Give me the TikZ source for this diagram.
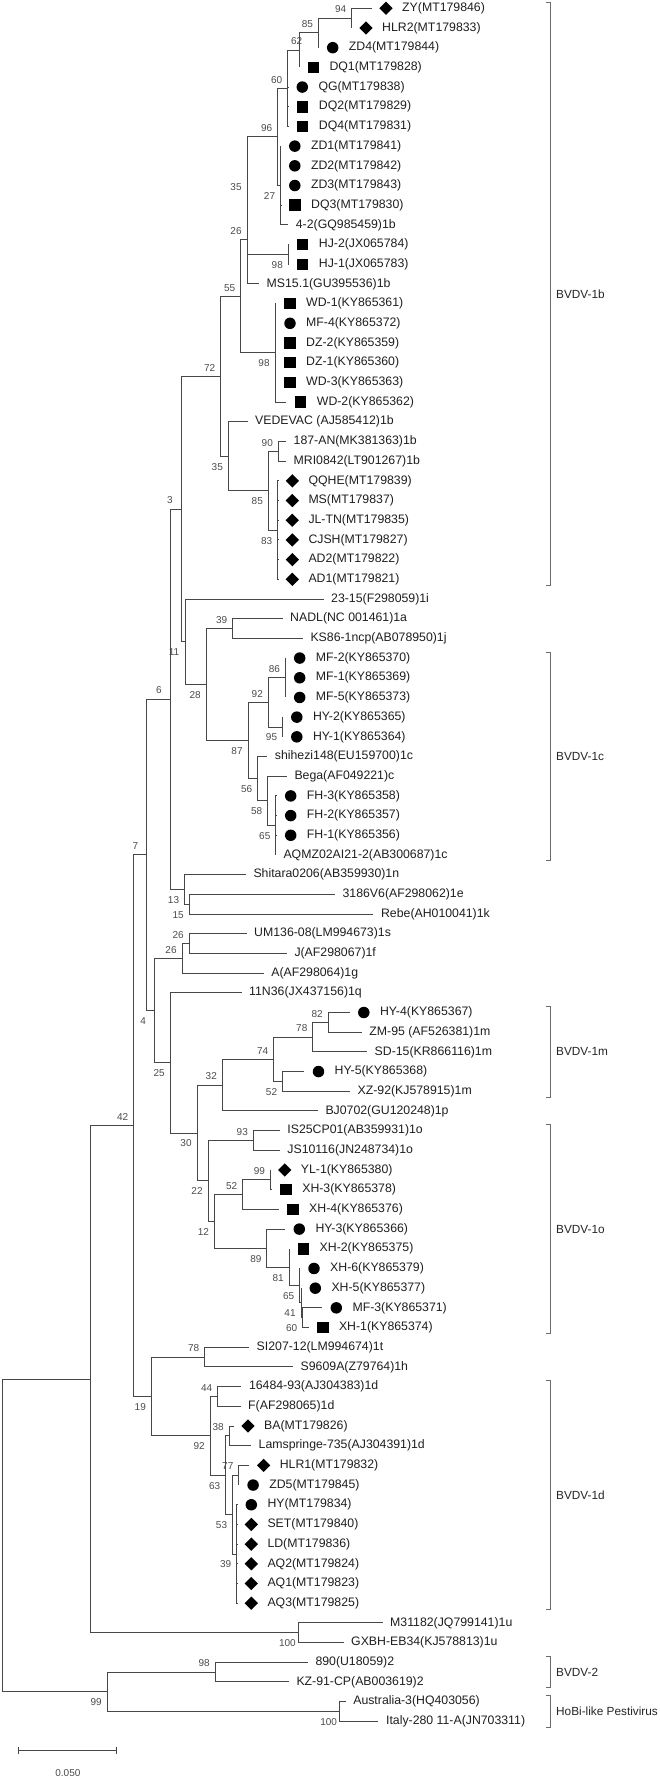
\documentclass[tikz,border=0pt]{standalone}
\usepackage{fontspec}
\setmainfont{Liberation Sans}
\usetikzlibrary{shapes.geometric}
\tikzset{
  br/.style={draw=black!72, line width=0.95pt},
  brk/.style={draw=black!58, line width=1pt},
  lbl/.style={anchor=west, inner sep=0pt, font=\fontsize{12.3}{14}\selectfont, text=black!88},
  cladelbl/.style={anchor=west, inner sep=0pt, font=\fontsize{11.8}{14}\selectfont, text=black!85},
  bsbase/.style={inner sep=0pt, font=\fontsize{10}{12}\selectfont, text=black!70},
  bsu/.style={bsbase, xshift=-11pt, yshift=8.7pt},
  bsl/.style={bsbase, xshift=-11pt, yshift=-10.5pt},
  mkD/.style={diamond, fill=black, draw=none, inner sep=0pt, minimum width=13.5pt, minimum height=13.5pt},
  mkC/.style={circle, fill=black, draw=none, inner sep=0pt, minimum size=11.5pt},
  mkS/.style={rectangle, fill=black, draw=none, inner sep=0pt, minimum size=11.5pt},
}
\newcommand\lfN[3]{\coordinate (L#1) at (#2,#1); \node[lbl] (T#1) at ([xshift=7.5pt]L#1) {#3};}
\newcommand\lfD[3]{\coordinate (L#1) at (#2,#1); \node[mkD] (M#1) at ([xshift=14.3pt]L#1) {}; \node[lbl] (T#1) at ([xshift=30.3pt]L#1) {#3};}
\newcommand\lfC[3]{\coordinate (L#1) at (#2,#1); \node[mkC] (M#1) at ([xshift=14.3pt]L#1) {}; \node[lbl] (T#1) at ([xshift=30.3pt]L#1) {#3};}
\newcommand\lfS[3]{\coordinate (L#1) at (#2,#1); \node[mkS] (M#1) at ([xshift=14.3pt]L#1) {}; \node[lbl] (T#1) at ([xshift=30.3pt]L#1) {#3};}
\newcommand\cladebr[4]{%
  \coordinate (#1-a) at (545.7,{#2-0.3});
  \coordinate (#1-b) at (550,{#2-0.3});
  \coordinate (#1-c) at (550,{#3+0.3});
  \coordinate (#1-d) at (545.7,{#3+0.3});
  \draw[brk] (#1-a) -- (#1-b) -- (#1-c) -- (#1-d);
  \node[cladelbl] (#1) at (556,{(#2+#3)/2}) {#4};}
\begin{document}
\begin{tikzpicture}[x=1pt,y=-19.69pt]
\fill[white] (0,0.5785) rectangle (659,91.2844);
\useasboundingbox (0,0.5785) rectangle (659,91.2844);

% ---------- leaves ----------
\lfD{1}{371.7}{ZY(MT179846)}
\lfD{2}{351.7}{HLR2(MT179833)}
\lfC{3}{318.4}{ZD4(MT179844)}
\lfS{4}{299}{DQ1(MT179828)}
\lfC{5}{288}{QG(MT179838)}
\lfS{6}{288.4}{DQ2(MT179829)}
\lfS{7}{288.4}{DQ4(MT179831)}
\lfC{8}{280.5}{ZD1(MT179841)}
\lfC{9}{280.5}{ZD2(MT179842)}
\lfC{10}{280.5}{ZD3(MT179843)}
\lfS{11}{280.7}{DQ3(MT179830)}
\lfN{12}{288.2}{4-2(GQ985459)1b}
\lfS{13}{288.4}{HJ-2(JX065784)}
\lfS{14}{288.4}{HJ-1(JX065783)}
\lfN{15}{259}{MS15.1(GU395536)1b}
\lfS{16}{275.7}{WD-1(KY865361)}
\lfC{17}{275.7}{MF-4(KY865372)}
\lfS{18}{275.7}{DZ-2(KY865359)}
\lfS{19}{275.7}{DZ-1(KY865360)}
\lfS{20}{275.7}{WD-3(KY865363)}
\lfS{21}{286.4}{WD-2(KY865362)}
\lfN{22}{247.5}{VEDEVAC (AJ585412)1b}
\lfN{23}{286}{187-AN(MK381363)1b}
\lfN{24}{286}{MRI0842(LT901267)1b}
\lfD{25}{278}{QQHE(MT179839)}
\lfD{26}{278}{MS(MT179837)}
\lfD{27}{278}{JL-TN(MT179835)}
\lfD{28}{278}{CJSH(MT179827)}
\lfD{29}{278}{AD2(MT179822)}
\lfD{30}{278}{AD1(MT179821)}
\lfN{31}{323.5}{23-15(F298059)1i}
\lfN{32}{282.5}{NADL(NC 001461)1a}
\lfN{33}{302.8}{KS86-1ncp(AB078950)1j}
\lfC{34}{285.4}{MF-2(KY865370)}
\lfC{35}{285.4}{MF-1(KY865369)}
\lfC{36}{285.4}{MF-5(KY865373)}
\lfC{37}{282.5}{HY-2(KY865365)}
\lfC{38}{282.5}{HY-1(KY865364)}
\lfN{39}{267.2}{shihezi148(EU159700)1c}
\lfN{40}{286.8}{Bega(AF049221)c}
\lfC{41}{276.4}{FH-3(KY865358)}
\lfC{42}{276.4}{FH-2(KY865357)}
\lfC{43}{276.4}{FH-1(KY865356)}
\lfN{44}{275.8}{AQMZ02AI21-2(AB300687)1c}
\lfN{45}{245.8}{Shitara0206(AB359930)1n}
\lfN{46}{334.9}{3186V6(AF298062)1e}
\lfN{47}{373.4}{Rebe(AH010041)1k}
\lfN{48}{246.5}{UM136-08(LM994673)1s}
\lfN{49}{286.8}{J(AF298067)1f}
\lfN{50}{263.6}{A(AF298064)1g}
\lfN{51}{241.5}{11N36(JX437156)1q}
\lfC{52}{349.5}{HY-4(KY865367)}
\lfN{53}{361.7}{ZM-95 (AF526381)1m}
\lfN{54}{367}{SD-15(KR866116)1m}
\lfC{55}{304.2}{HY-5(KY865368)}
\lfN{56}{349.9}{XZ-92(KJ578915)1m}
\lfN{57}{317.8}{BJ0702(GU120248)1p}
\lfN{58}{279.7}{IS25CP01(AB359931)1o}
\lfN{59}{279.7}{JS10116(JN248734)1o}
\lfD{60}{270.4}{YL-1(KY865380)}
\lfS{61}{271.8}{XH-3(KY865378)}
\lfS{62}{278.7}{XH-4(KY865376)}
\lfC{63}{285}{HY-3(KY865366)}
\lfS{64}{289.2}{XH-2(KY865375)}
\lfC{65}{299.7}{XH-6(KY865379)}
\lfC{66}{301}{XH-5(KY865377)}
\lfC{67}{322}{MF-3(KY865371)}
\lfS{68}{308.5}{XH-1(KY865374)}
\lfN{69}{249}{SI207-12(LM994674)1t}
\lfN{70}{293}{S9609A(Z79764)1h}
\lfN{71}{241.3}{16484-93(AJ304383)1d}
\lfN{72}{240.5}{F(AF298065)1d}
\lfD{73}{233.7}{BA(MT179826)}
\lfN{74}{251}{Lamspringe-735(AJ304391)1d}
\lfD{75}{249.3}{HLR1(MT179832)}
\lfC{76}{238.8}{ZD5(MT179845)}
\lfC{77}{237}{HY(MT179834)}
\lfD{78}{237}{SET(MT179840)}
\lfD{79}{237}{LD(MT179836)}
\lfD{80}{237}{AQ2(MT179824)}
\lfD{81}{237}{AQ1(MT179823)}
\lfD{82}{237}{AQ3(MT179825)}
\lfN{83}{382.5}{M31182(JQ799141)1u}
\lfN{84}{343.5}{GXBH-EB34(KJ578813)1u}
\lfN{85}{307.8}{890(U18059)2}
\lfN{86}{288.8}{KZ-91-CP(AB003619)2}
\lfN{87}{345.6}{Australia-3(HQ403056)}
\lfN{88}{378.4}{Italy-280 11-A(JN703311)}

% ---------- internal nodes (x in px, y in rows) ----------
\coordinate (n94) at (351.7,1.5);
\coordinate (n85) at (318.4,2.25);
\coordinate (n62) at (299,3.125);
\coordinate (n60) at (287.7,5.0625);
\coordinate (n27) at (280.5,10);
\coordinate (n96) at (277.7,7.53125);
\coordinate (nHJ) at (288.3,13.5);
\coordinate (n35a) at (247,10.515625);
\coordinate (n26a) at (247,12.7578);
\coordinate (n98a) at (275,18.5);
\coordinate (n55) at (240.7,15.6289);
\coordinate (n90) at (278.3,23.5);
\coordinate (n83) at (277.7,27.5);
\coordinate (n85b) at (268.3,25.5);
\coordinate (n35b) at (228.3,23.75);
\coordinate (n72) at (220.7,19.6895);
\coordinate (n39) at (232.6,32.5);
\coordinate (n86) at (285.4,35);
\coordinate (n95) at (282.5,37.5);
\coordinate (n92) at (268.3,36.25);
\coordinate (n65) at (275.8,42.5);
\coordinate (n58) at (267.6,41.25);
\coordinate (n56) at (257.6,40.125);
\coordinate (n87) at (248,38.1875);
\coordinate (n28) at (206.2,35.34375);
\coordinate (n11) at (185,33.171875);
\coordinate (n3) at (181,26.4307);
\coordinate (n15) at (189.1,46.5);
\coordinate (n13) at (184.5,45.75);
\coordinate (n6) at (170,36.0903);
\coordinate (n26b) at (189.1,48.5);
\coordinate (n26c) at (182,49.25);
\coordinate (n82) at (328.2,52.5);
\coordinate (n78) at (312.8,53.25);
\coordinate (n52) at (282.5,55.5);
\coordinate (n74) at (273.6,54.375);
\coordinate (n32) at (222.3,55.6875);
\coordinate (n93) at (253.3,58.5);
\coordinate (n99b) at (270.4,60.5);
\coordinate (n52b) at (242.6,61.25);
\coordinate (n60b) at (302.6,67.5);
\coordinate (n41) at (301,66.75);
\coordinate (n65b) at (299.7,65.875);
\coordinate (n81) at (289.2,64.9375);
\coordinate (n89) at (266.9,63.96875);
\coordinate (n12) at (214.4,62.609375);
\coordinate (n22) at (208,60.5547);
\coordinate (n30) at (197,58.1211);
\coordinate (n25) at (170.2,54.5605);
\coordinate (n4) at (154.2,51.9053);
\coordinate (n7) at (146.3,43.9978);
\coordinate (n78b) at (204.7,69.5);
\coordinate (n44) at (217.7,71.5);
\coordinate (n38) at (229.1,73.5);
\coordinate (n77) at (238.8,75.5);
\coordinate (n39d) at (236.7,79.5);
\coordinate (n53) at (232.5,77.5);
\coordinate (n63) at (225.7,75.5);
\coordinate (n92d) at (210.2,73.5);
\coordinate (n19) at (151.3,71.5);
\coordinate (n42) at (133.7,57.7489);
\coordinate (n100u) at (298.4,83.5);
\coordinate (nA) at (90.4,70.6245);
\coordinate (n98c) at (215.2,85.5);
\coordinate (n100h) at (339.6,87.5);
\coordinate (n99) at (107.2,86.5);
\coordinate (root) at (2.1,78.5622);

% ---------- branches ----------
\foreach \p/\c in {n94/L1,n94/L2,n85/n94,n85/L3,n62/n85,n62/L4,n60/n62,n60/L5,n60/L6,n60/L7,
  n27/L8,n27/L9,n27/L10,n27/L11,n27/L12,n96/n60,n96/n27,nHJ/L13,nHJ/L14,n35a/n96,n35a/nHJ,
  n26a/n35a,n26a/L15,n98a/L16,n98a/L17,n98a/L18,n98a/L19,n98a/L20,n98a/L21,n55/n26a,n55/n98a,
  n90/L23,n90/L24,n83/L25,n83/L26,n83/L27,n83/L28,n83/L29,n83/L30,n85b/n90,n85b/n83,
  n35b/L22,n35b/n85b,n72/n55,n72/n35b,n3/n72,n3/n11,
  n11/L31,n11/n28,n28/n39,n28/n87,n39/L32,n39/L33,n87/n92,n87/n56,n92/n86,n92/n95,
  n86/L34,n86/L35,n86/L36,n95/L37,n95/L38,n56/L39,n56/n58,n58/L40,n58/n65,
  n65/L41,n65/L42,n65/L43,n65/L44,
  n6/n3,n6/n13,n13/L45,n13/n15,n15/L46,n15/L47,
  n7/n6,n7/n4,n4/n26c,n4/n25,n26c/n26b,n26c/L50,n26b/L48,n26b/L49,n25/L51,n25/n30,
  n30/n32,n30/n22,n32/n74,n32/L57,n74/n78,n74/n52,n78/n82,n78/L54,n82/L52,n82/L53,
  n52/L55,n52/L56,n22/n93,n22/n12,n93/L58,n93/L59,n12/n52b,n12/n89,n52b/n99b,n52b/L62,
  n99b/L60,n99b/L61,n89/L63,n89/n81,n81/L64,n81/n65b,n65b/L65,n65b/n41,n41/L66,n41/n60b,
  n60b/L67,n60b/L68,
  n42/n7,n42/n19,n19/n78b,n19/n92d,n78b/L69,n78b/L70,n92d/n44,n92d/n63,n44/L71,n44/L72,
  n63/n38,n63/n53,n38/L73,n38/L74,n53/n77,n53/n39d,n77/L75,n77/L76,
  n39d/L77,n39d/L78,n39d/L79,n39d/L80,n39d/L81,n39d/L82,
  nA/n42,nA/n100u,n100u/L83,n100u/L84,root/nA,root/n99,n99/n98c,n99/n100h,
  n98c/L85,n98c/L86,n100h/L87,n100h/L88}
  \draw[br] (\p) |- (\c);

% ---------- bootstrap values ----------
\foreach \n/\v in {n94/94,n85/85,n60/60,n96/96,n35a/35,n26a/26,n55/55,n72/72,n3/3,n6/6,n7/7,
  n42/42,n90/90,n39/39,n92/92,n86/86,n26b/26,n26c/26,n82/82,n78/78,n74/74,n32/32,n93/93,
  n99b/99,n52b/52,n78b/78,n44/44,n38/38,n77/77,n98c/98}
  \node[bsu] (b-\n) at (\n) {\v};
\node[bsu, xshift=8.7pt] (b-n62) at (n62) {62};
\foreach \n/\v in {n27/27,nHJ/98,n98a/98,n35b/35,n85b/85,n83/83,n11/11,n28/28,n87/87,n95/95,
  n56/56,n58/58,n65/65,n13/13,n15/15,n4/4,n25/25,n30/30,n52/52,n22/22,n12/12,n89/89,n81/81,
  n65b/65,n41/41,n60b/60,n19/19,n92d/92,n63/63,n53/53,n39d/39,n100u/100,n99/99,n100h/100}
  \node[bsl] (b-\n) at (\n) {\v};

% ---------- clade brackets ----------
\cladebr{c1b}{1}{30}{BVDV-1b}
\cladebr{c1c}{34}{44}{BVDV-1c}
\cladebr{c1m}{52}{56}{BVDV-1m}
\cladebr{c1o}{58}{68}{BVDV-1o}
\cladebr{c1d}{71}{82}{BVDV-1d}
\cladebr{c2}{85}{86}{BVDV-2}
\cladebr{cHo}{87}{88}{HoBi-like Pestivirus}

% ---------- scale bar ----------
\coordinate (sbL) at (18.9,89.49);
\coordinate (sbR) at (116.9,89.49);
\draw[br] (sbL) -- (sbR);
\draw[br] ([yshift=3.5pt]sbL) -- ([yshift=-3.5pt]sbL);
\draw[br] ([yshift=3.5pt]sbR) -- ([yshift=-3.5pt]sbR);
\node[bsbase] (sbT) at (67.9,90.62) {0.050};
\end{tikzpicture}
\end{document}
